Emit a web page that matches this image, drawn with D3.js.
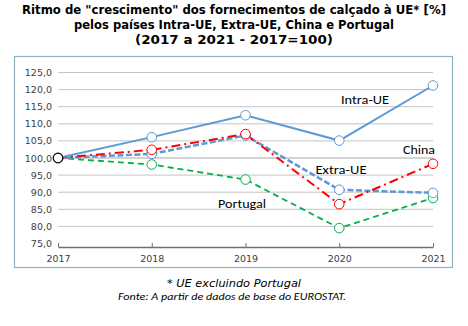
<!DOCTYPE html>
<html>
<head>
<meta charset="utf-8">
<script src="https://cdn.jsdelivr.net/npm/d3@7"></script>
<style>
body { margin: 0; background: #fff; }
svg { display: block; }
</style>
</head>
<body>
<svg id="chart" width="468" height="326"></svg>
<script>
const years = [2017, 2018, 2019, 2020, 2021];
const intraUE = [100, 106.1, 112.5, 105.1, 121.2];
const extraUE = [100, 101.2, 106.6, 90.7, 89.8];
const china = [100, 102.4, 107.0, 86.5, 98.3];
const portugal = [100, 98.1, 93.7, 79.5, 88.3];
const yTicks = [75, 80, 85, 90, 95, 100, 105, 110, 115, 120, 125];
const titleLines = ['Ritmo de "crescimento" dos fornecimentos de calçado à UE* [%]',
                    'pelos países Intra-UE, Extra-UE, China e Portugal',
                    '(2017 a 2021 - 2017=100)'];

const svg = d3.select("#chart");
const fontT = "Tahoma, 'DejaVu Sans', sans-serif";

// titulo
svg.selectAll("text.title").data(titleLines).enter().append("text")
   .attr("class", "title")
   .attr("x", 234).attr("y", (d, i) => 14 + i * 15)
   .attr("text-anchor", "middle")
   .attr("font-family", fontT).attr("font-weight", "bold").attr("font-size", 12)
   .attr("textLength", (d, i) => [424, 320, 198][i])
   .attr("lengthAdjust", "spacingAndGlyphs")
   .attr("fill", "#000").text(d => d);

// moldura
svg.append("rect").attr("x", 14.5).attr("y", 56.5).attr("width", 438).attr("height", 211)
   .attr("fill", "#fff").attr("stroke", "#8fb3c0").attr("stroke-width", 1.2);

const x = d3.scalePoint().domain(years).range([58, 433]);
const y = d3.scaleLinear().domain([75, 125]).range([243.5, 72.5]);

// grelha
svg.append("g").selectAll("line").data(yTicks.filter(d => d > 75)).enter().append("line")
   .attr("x1", 58).attr("x2", 433)
   .attr("y1", d => y(d)).attr("y2", d => y(d))
   .attr("stroke", d => d === 100 ? "#a6a6a6" : "#c4c4c4").attr("stroke-width", 1);

// eixo y
const yAxis = svg.append("g").attr("transform", "translate(52,0)")
   .call(d3.axisLeft(y).tickValues(yTicks).tickSize(0).tickPadding(0)
        .tickFormat(d => d3.format(".1f")(d).replace(".", ",")));
yAxis.select(".domain").remove();
yAxis.selectAll("text").attr("font-family", fontT).attr("font-size", 9.5).attr("fill", "#404040");

// eixo x
const xAxis = svg.append("g").attr("transform", "translate(0,247)")
   .call(d3.axisBottom(x).tickSize(-4).tickSizeOuter(0).tickPadding(8));
xAxis.select(".domain").attr("stroke", "#707070").attr("stroke-width", 1.5);
xAxis.selectAll(".tick line").attr("stroke", "#707070");
xAxis.selectAll("text").attr("font-family", fontT).attr("font-size", 9.5).attr("fill", "#404040");

const series = [
  { name: "Portugal", values: portugal, color: "#00b050", dash: "6,4", w: 1.8 },
  { name: "Extra-UE", values: extraUE, color: "#5f97d6", dash: "6,2.5", w: 2.5 },
  { name: "China", values: china, color: "#ff0000", dash: "9,4,2,4", w: 2 },
  { name: "Intra-UE", values: intraUE, color: "#5b9bd5", dash: null, w: 2 }
];

const line = d3.line().x((d, i) => x(years[i])).y(d => y(d));

series.forEach(s => {
  svg.append("path").datum(s.values)
     .attr("d", line).attr("fill", "none")
     .attr("stroke", s.color).attr("stroke-width", s.w)
     .attr("stroke-dasharray", s.dash);
});
series.forEach(s => {
  svg.append("g").selectAll("circle").data(s.values.slice(1)).enter().append("circle")
     .attr("cx", (d, i) => x(years[i + 1])).attr("cy", d => y(d)).attr("r", 4.8)
     .attr("fill", "#fff").attr("stroke", s.color).attr("stroke-width", 1);
});
svg.append("circle").attr("cx", x(2017)).attr("cy", y(100)).attr("r", 4.8)
   .attr("fill", "#fff").attr("stroke", "#000").attr("stroke-width", 1.2);

// etiquetas
const labels = [
  { t: "Intra-UE", x: 365, y: 104, w: 48 },
  { t: "China", x: 419, y: 154, w: 32 },
  { t: "Extra-UE", x: 341, y: 174, w: 51 },
  { t: "Portugal", x: 242, y: 208, w: 48 }
];
svg.selectAll("text.lab").data(labels).enter().append("text")
   .attr("class", "lab").attr("x", d => d.x).attr("y", d => d.y)
   .attr("text-anchor", "middle")
   .attr("font-family", "Carlito, 'Open Sans', sans-serif").attr("font-size", 13)
   .attr("textLength", d => d.w).attr("lengthAdjust", "spacingAndGlyphs")
   .attr("fill", "#000").text(d => d.t);

// notas
svg.append("text").attr("x", 234).attr("y", 287).attr("text-anchor", "middle")
   .attr("font-family", "Tahoma, 'DejaVu Sans', sans-serif").attr("font-style", "italic")
   .attr("font-size", 11).attr("textLength", 134).attr("lengthAdjust", "spacingAndGlyphs")
   .text("* UE excluindo Portugal");
svg.append("text").attr("x", 232).attr("y", 300).attr("text-anchor", "middle")
   .attr("font-family", "Carlito, 'Liberation Sans', sans-serif").attr("font-style", "italic")
   .attr("font-size", 9.5).attr("textLength", 228).attr("lengthAdjust", "spacingAndGlyphs")
   .text("Fonte: A partir de dados de base do EUROSTAT.");
</script>
</body>
</html>
